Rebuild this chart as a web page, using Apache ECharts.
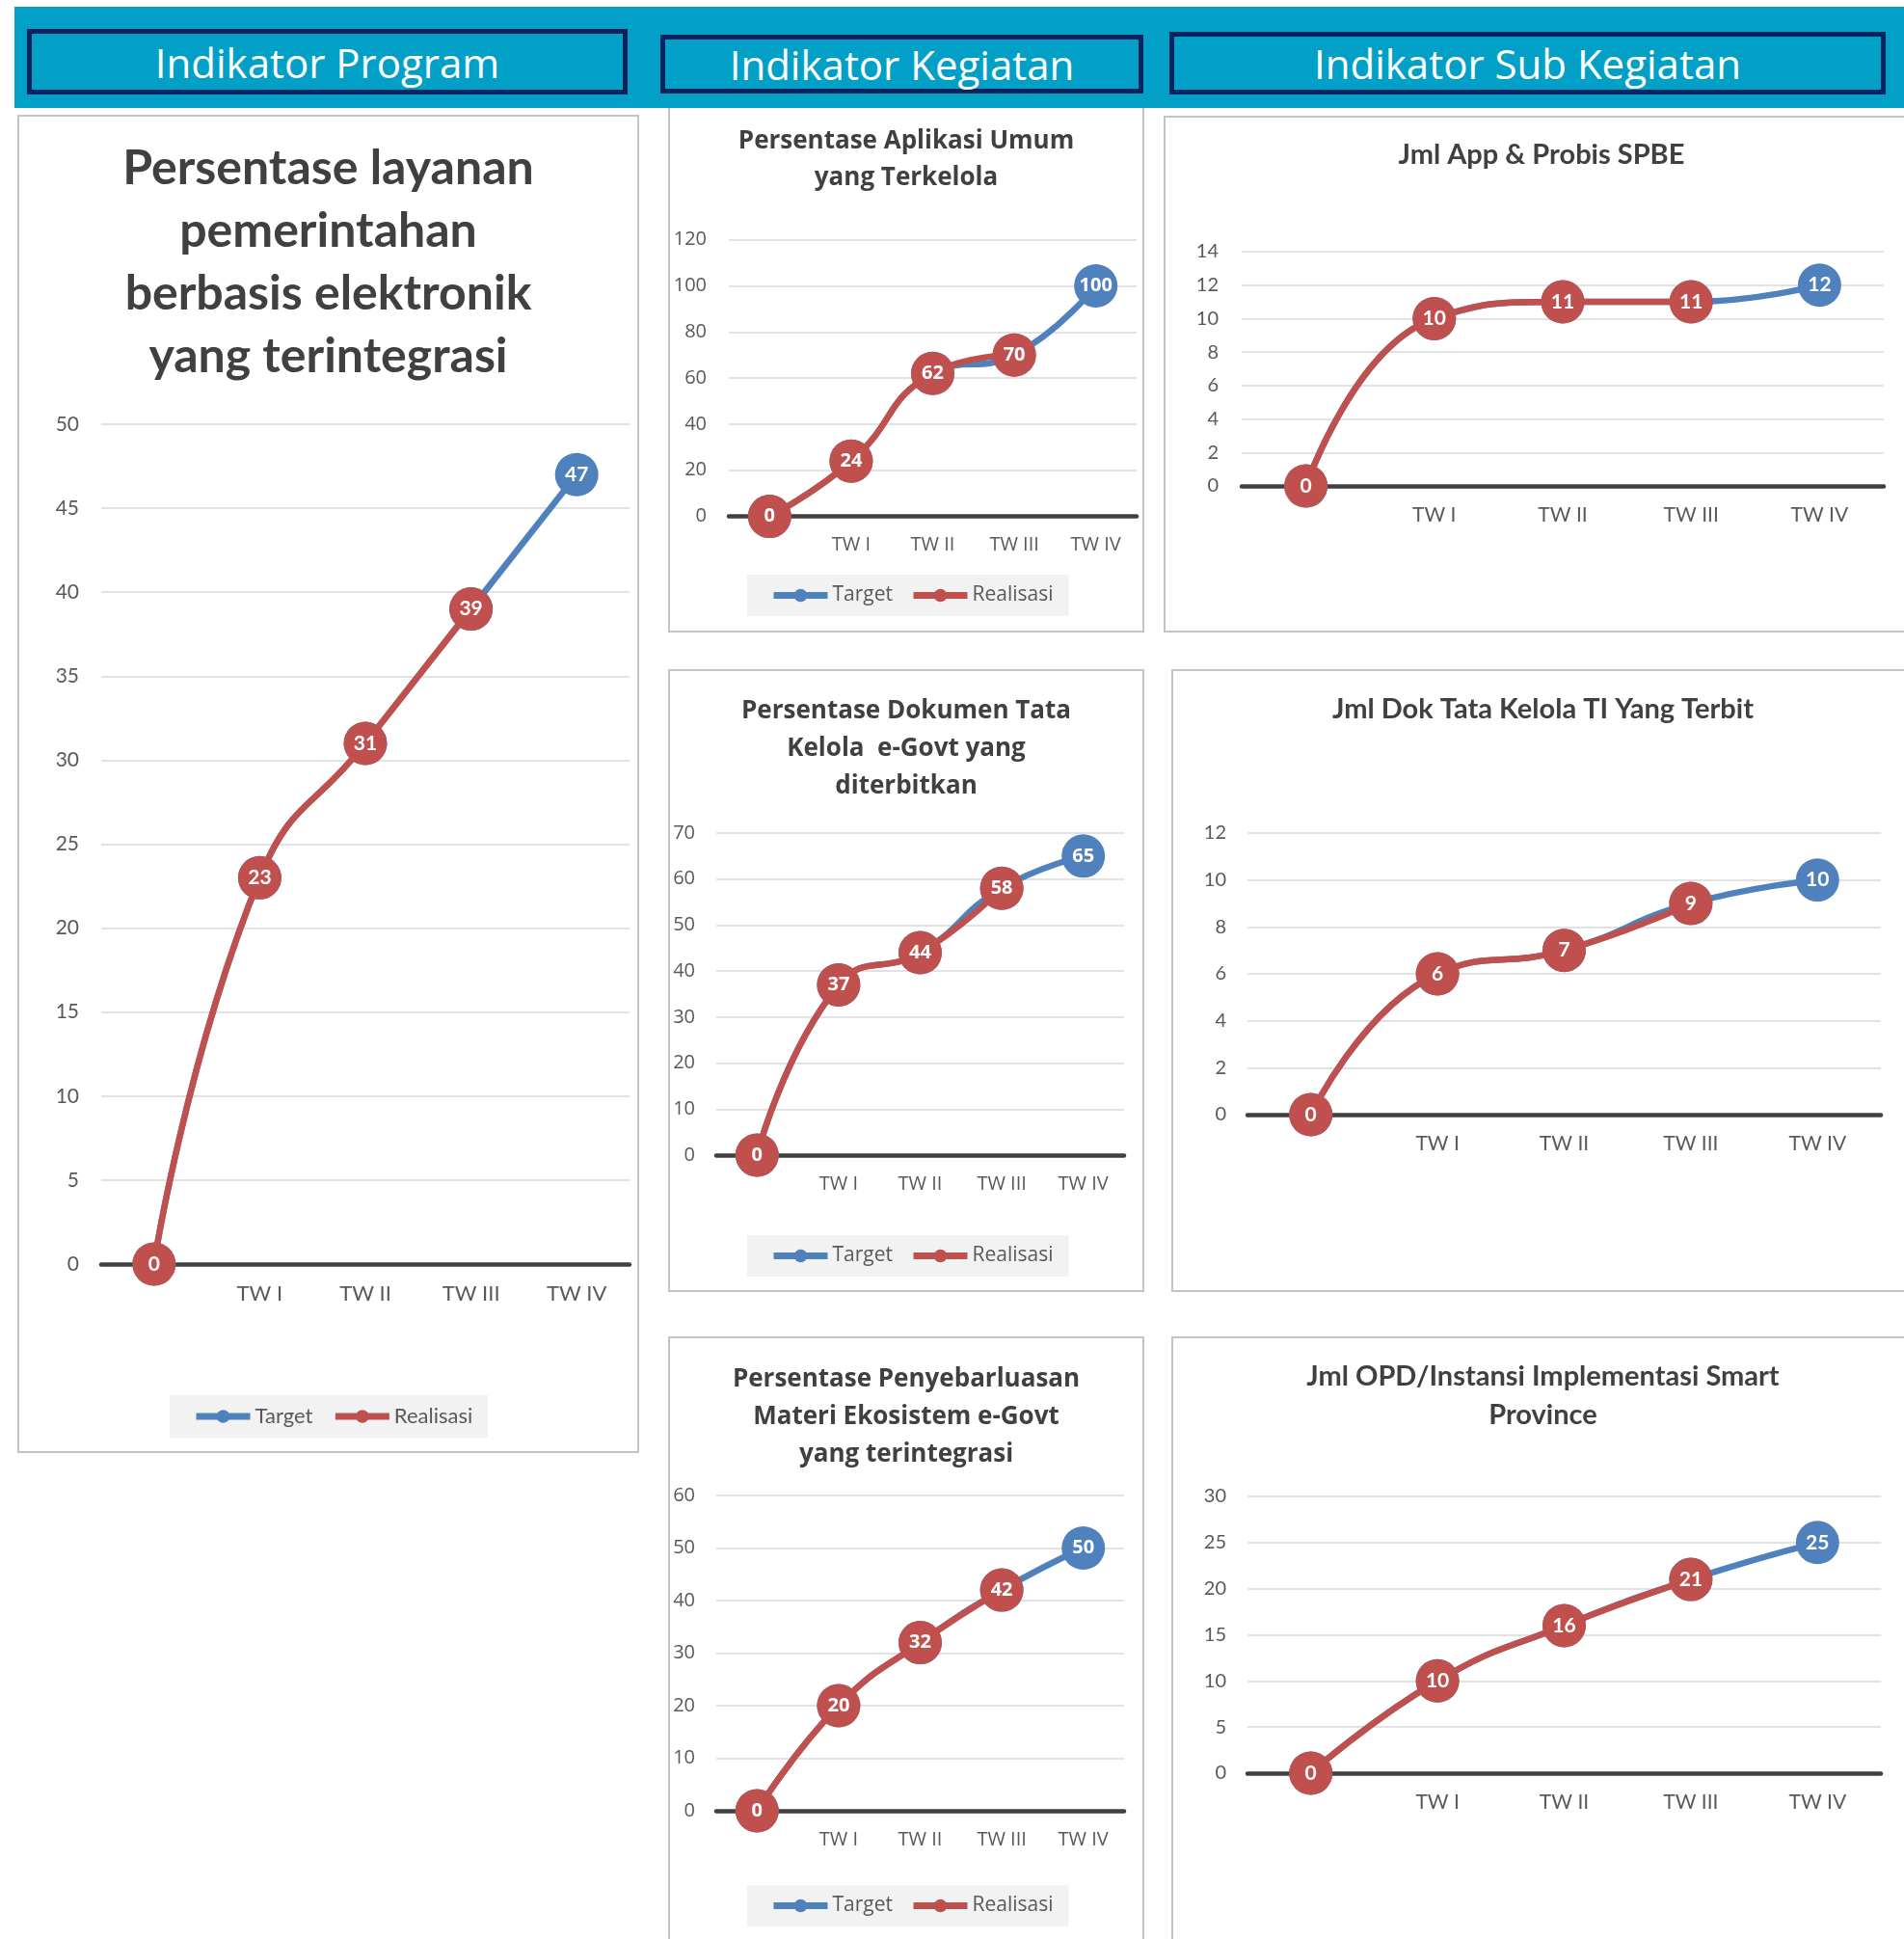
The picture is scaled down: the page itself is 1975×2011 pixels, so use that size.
<!DOCTYPE html>
<html><head><meta charset="utf-8">
<script src="https://cdn.jsdelivr.net/npm/echarts@6.0.0/dist/echarts.min.js"></script>
<style>
html,body{margin:0;padding:0;width:1975px;height:2011px;overflow:hidden;background:#fff;}
.banner{position:absolute;left:15px;top:7px;width:1965px;height:105px;background:#02A0C6;z-index:5;}
.hbox{position:absolute;box-sizing:border-box;border:5px solid #0B2460;color:#fff;font-family:'Open Sans',sans-serif;font-size:42px;display:flex;align-items:center;justify-content:center;z-index:6;white-space:nowrap;}
.panel{position:absolute;box-sizing:border-box;border:2px solid #C4C4C4;background:#fff;z-index:1;}
.chart{position:absolute;z-index:2;}
</style></head>
<body>
<div class="banner"></div>
<div class="hbox" style="left:28px;top:30px;width:623px;height:68px;">Indikator Program</div>
<div class="hbox" style="left:685px;top:36px;width:501px;height:61px;">Indikator Kegiatan</div>
<div class="hbox" style="left:1213px;top:33px;width:743px;height:65px;">Indikator Sub Kegiatan</div>
<div id="wrap"></div>
<script>
const categories = ['', 'TW I', 'TW II', 'TW III', 'TW IV'];
const legendNames = ['Target', 'Realisasi'];

const layananTitle = ['Persentase layanan', 'pemerintahan', 'berbasis elektronik', 'yang terintegrasi'];
const layananTarget = [0, 23, 31, 39, 47];
const layananRealisasi = [0, 23, 31, 39];
const layananTicks = [0, 50, 5];

const aplikasiTitle = ['Persentase Aplikasi Umum', 'yang Terkelola'];
const aplikasiTarget = [0, 24, 62, 70, 100];
const aplikasiRealisasi = [0, 24, 62, 70];
const aplikasiTicks = [0, 120, 20];

const dokumenTitle = ['Persentase Dokumen Tata', 'Kelola  e-Govt yang', 'diterbitkan'];
const dokumenTarget = [0, 37, 44, 58, 65];
const dokumenRealisasi = [0, 37, 44, 58];
const dokumenTicks = [0, 70, 10];

const sebarTitle = ['Persentase Penyebarluasan', 'Materi Ekosistem e-Govt', 'yang terintegrasi'];
const sebarTarget = [0, 20, 32, 42, 50];
const sebarRealisasi = [0, 20, 32, 42];
const sebarTicks = [0, 60, 10];

const probisTitle = ['Jml App & Probis SPBE'];
const probisTarget = [0, 10, 11, 11, 12];
const probisRealisasi = [0, 10, 11, 11];
const probisTicks = [0, 14, 2];

const dokTITitle = ['Jml Dok Tata Kelola TI Yang Terbit'];
const dokTITarget = [0, 6, 7, 9, 10];
const dokTIRealisasi = [0, 6, 7, 9];
const dokTITicks = [0, 12, 2];

const opdTitle = ['Jml OPD/Instansi Implementasi Smart', 'Province'];
const opdTarget = [0, 10, 16, 21, 25];
const opdRealisasi = [0, 10, 16, 21];
const opdTicks = [0, 30, 5];

const BLUE = '#4F81BD', RED = '#C0504D';

const configs = [
  {box:[18,119,645,1388], title:layananTitle, font:'Lato', tSize:50, tLH:65, tTop:18,
   grid:[87,321,548,871], ticks:layananTicks, target:layananTarget, real:layananRealisasi,
   ySize:21, yMargin:23, xSize:22, lblSize:21, legend:[158,1328], legSize:22, legGap:20},
  {box:[693,110,494,546], title:aplikasiTitle, font:'Open Sans', tSize:26, tLH:37.5, tTop:13,
   grid:[63,138.6,423,287], ticks:aplikasiTicks, target:aplikasiTarget, real:aplikasiRealisasi,
   ySize:20, yMargin:23, xSize:20, lblSize:20, legend:[82,486], legSize:21, legGap:18},
  {box:[693,694,494,646], title:dokumenTitle, font:'Open Sans', tSize:26, tLH:39, tTop:19.5,
   grid:[50,170,423,334], ticks:dokumenTicks, target:dokumenTarget, real:dokumenRealisasi,
   ySize:20, yMargin:22, xSize:20, lblSize:20, legend:[82,587], legSize:21, legGap:18},
  {box:[693,1386,494,700], title:sebarTitle, font:'Open Sans', tSize:26, tLH:39, tTop:20,
   grid:[50,165,423,327], ticks:sebarTicks, target:sebarTarget, real:sebarRealisasi,
   ySize:20, yMargin:22, xSize:20, lblSize:20, legend:[82,569], legSize:21, legGap:18},
  {box:[1207,120,784,536], title:probisTitle, font:'Lato', tSize:29, tLH:40, tTop:16,
   grid:[81,141,666,243], ticks:probisTicks, target:probisTarget, real:probisRealisasi,
   ySize:20, yMargin:24, xSize:21, lblSize:21, legend:null},
  {box:[1215,694,771,646], title:dokTITitle, font:'Lato', tSize:29, tLH:40, tTop:17,
   grid:[79,170,657,292], ticks:dokTITicks, target:dokTITarget, real:dokTIRealisasi,
   ySize:20, yMargin:22, xSize:21, lblSize:21, legend:null},
  {box:[1215,1386,771,700], title:opdTitle, font:'Lato', tSize:29, tLH:40, tTop:17,
   grid:[79,166,657,287], ticks:opdTicks, target:opdTarget, real:opdRealisasi,
   ySize:20, yMargin:22, xSize:21, lblSize:21, legend:null}
];

const wrap = document.getElementById('wrap');
configs.forEach((c, i) => {
  const [bx, by, bw, bh] = c.box;
  const p = document.createElement('div');
  p.className = 'panel';
  p.style.cssText = `left:${bx}px;top:${by}px;width:${bw}px;height:${bh}px;`;
  wrap.appendChild(p);
  const d = document.createElement('div');
  d.className = 'chart';
  d.style.cssText = `left:${bx}px;top:${by}px;width:${bw}px;height:${bh}px;`;
  wrap.appendChild(d);
  const chart = echarts.init(d);
  const real = c.real;
  const labelBase = {show:true, position:'inside', color:'#fff', fontWeight:'bold', fontFamily:c.font, fontSize:c.lblSize};
  const opt = {
    animation:false,
    title:{text:c.title.join('\n'), left:'center', top:c.tTop,
      textStyle:{fontFamily:c.font, fontWeight:'bold', fontSize:c.tSize, lineHeight:c.tLH, color:'#404040'}},
    grid:{left:c.grid[0], top:c.grid[1], width:c.grid[2], height:c.grid[3], containLabel:false},
    xAxis:{type:'category', data:categories, boundaryGap:true,
      axisLine:{lineStyle:{color:'#404040', width:4.5}}, axisTick:{show:false},
      axisLabel:{color:'#595959', fontFamily:c.font, fontSize:c.xSize, margin:20, interval:0}},
    yAxis:{type:'value', min:c.ticks[0], max:c.ticks[1], interval:c.ticks[2],
      axisLine:{show:false}, axisTick:{show:false},
      splitLine:{lineStyle:{color:'#D9D9D9', width:1.5}},
      axisLabel:{color:'#595959', fontFamily:c.font, fontSize:c.ySize, margin:c.yMargin}},
    series:[
      {name:legendNames[0], type:'line', data:c.target, smooth:0.5, symbol:'circle', symbolSize:45,
       itemStyle:{color:BLUE}, lineStyle:{width:6.5, color:BLUE}, z:2,
       label:Object.assign({}, labelBase, {formatter:(q) => (real[q.dataIndex] == null ? String(q.value) : '')})},
      {name:legendNames[1], type:'line', data:c.real, smooth:0.5, symbol:'circle', symbolSize:45,
       itemStyle:{color:RED}, lineStyle:{width:6.5, color:RED}, z:3,
       label:labelBase}
    ]
  };
  if (c.legend) {
    opt.legend = {data:legendNames, left:c.legend[0], top:c.legend[1], backgroundColor:'#F2F2F2',
      padding:[11,16,11,24], itemWidth:56, itemHeight:17, itemGap:c.legGap, selectedMode:false,
      lineStyle:{width:7}, textStyle:{fontSize:c.legSize, color:'#595959', fontFamily:c.font}};
  }
  chart.setOption(opt);
});
</script>
</body></html>
